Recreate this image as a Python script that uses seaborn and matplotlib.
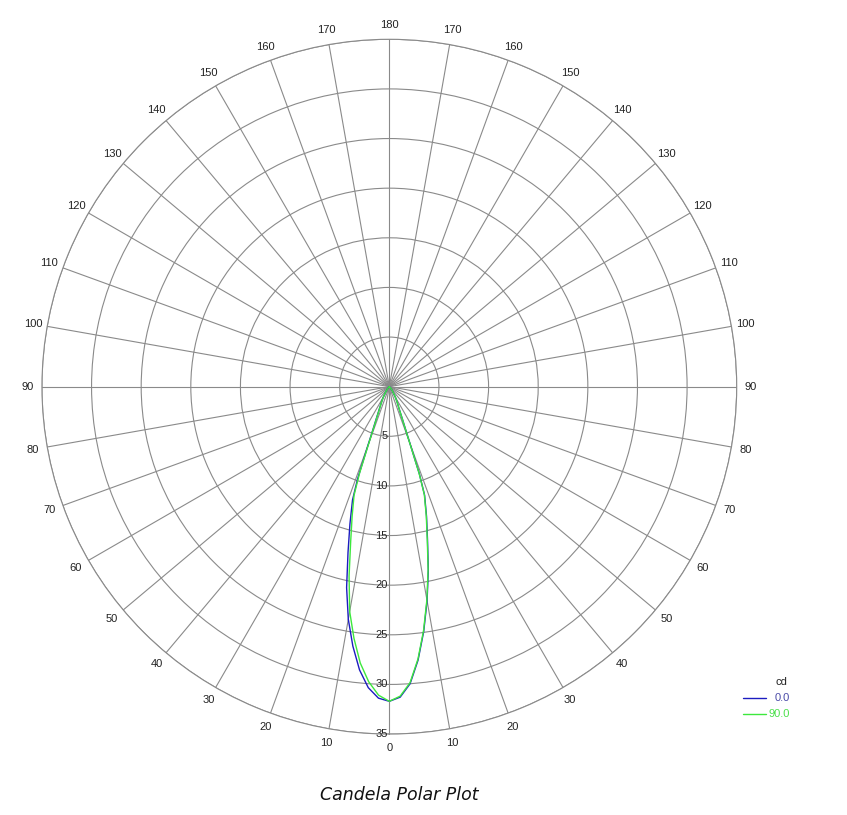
import numpy as np
import pandas as pd
import seaborn as sns
import matplotlib.pyplot as plt
from matplotlib.lines import Line2D

# vertical angles (deg from nadir) and candela values
gamma = [0, 2, 4, 6, 8, 10, 12, 14, 16, 18, 19, 20, 21, 22, 24, 26, 28, 30, 35, 40, 45, 50]
cd_c0 = [31.7, 31.3, 30.0, 27.7, 24.9, 21.9, 18.9, 15.9, 13.6, 11.5, 9.3, 6.0, 4.4, 3.5, 2.4, 1.9, 1.5, 1.2, 0.6, 0.3, 0.1, 0.0]
cd_c180 = [31.7, 31.4, 30.4, 28.7, 26.4, 23.8, 20.7, 17.2, 14.4, 12.0, 9.8, 6.3, 4.5, 3.6, 2.5, 1.9, 1.5, 1.2, 0.6, 0.3, 0.1, 0.0]
cd_c90 = [31.7, 31.2, 29.9, 27.6, 24.8, 21.8, 18.8, 15.8, 13.5, 11.4, 9.2, 5.9, 4.3, 3.4, 2.4, 1.9, 1.5, 1.2, 0.6, 0.3, 0.1, 0.0]
cd_c270 = [31.7, 31.1, 29.8, 28.0, 25.6, 23.0, 19.5, 16.1, 13.6, 11.5, 9.2, 5.9, 4.3, 3.4, 2.4, 1.9, 1.5, 1.2, 0.6, 0.3, 0.1, 0.0]

planes = ['0.0', '90.0']
plane_colors = {'0.0': '#1c1cc0', '90.0': '#3de83d'}
label_colors = {'0.0': '#4a4aa8', '90.0': '#4ce04c'}
r_ticks = [5, 10, 15, 20, 25, 30, 35]
angle_ticks = list(range(0, 360, 10))


def half_plane_curve(left, right):
    # left half drawn at negative angles, right half at positive angles
    g = np.array(gamma, dtype=float)
    theta = np.deg2rad(np.concatenate([-g[::-1], g[1:]]))
    r = np.concatenate([np.array(left)[::-1], np.array(right)[1:]])
    return theta, r


rows = []
for plane, (left, right) in zip(planes, [(cd_c180, cd_c0), (cd_c270, cd_c90)]):
    th, rr = half_plane_curve(left, right)
    for i, (t, v) in enumerate(zip(th, rr)):
        rows.append({'plane': plane, 'order': i, 'theta': t, 'cd': v})
df = pd.DataFrame(rows)

sns.set_style('white')
plt.rcParams['font.family'] = ['Liberation Sans', 'DejaVu Sans']

fig = plt.figure(figsize=(8.47, 8.15), dpi=100)
ax = fig.add_axes([0.0495, 0.0993, 0.8203, 0.8525], projection='polar')
ax.set_theta_zero_location('S')
ax.set_ylim(0, 35)

grid_col = '#8a8a8a'
ax.set_xticks(np.deg2rad(angle_ticks))
ax.set_xticklabels([])
ax.set_yticks(r_ticks)
ax.set_yticklabels([])
ax.grid(True, color=grid_col, lw=0.8)
ax.spines['polar'].set_color(grid_col)
ax.spines['polar'].set_linewidth(0.8)
ax.tick_params(length=0)

sns.lineplot(data=df, x='theta', y='cd', hue='plane', palette=plane_colors,
             sort=False, estimator=None, units='plane', lw=1.0, ax=ax, legend=False)
ax.set_xlabel('')
ax.set_ylabel('')

# angle labels: 0 at nadir, mirrored to 180 at zenith
for a in angle_ticks:
    lab = a if a <= 180 else 360 - a
    ax.text(np.deg2rad(a), 36.45, str(lab), ha='center', va='center',
            fontsize=8, color='#222222', clip_on=False)

# radial labels along the 0 spoke
for r in r_ticks:
    ax.annotate(str(r), xy=(0, r), xytext=(-1, 0), textcoords='offset points',
                ha='right', va='center', fontsize=8, color='#222222')

# legend
fig.text(781 / 847, 1 - 682 / 815, 'cd', ha='center', va='center', fontsize=8, color='#222222')
for plane, y in zip(planes, [698, 714]):
    yf = 1 - y / 815
    fig.add_artist(Line2D([743 / 847, 766 / 847], [yf, yf], transform=fig.transFigure,
                          color=plane_colors[plane], lw=1.0))
    fig.text(790 / 847, yf, plane, ha='right', va='center', fontsize=8, color=label_colors[plane])

fig.text(399 / 847, 1 - 795 / 815, 'Candela Polar Plot', ha='center', va='center',
         fontsize=12.5, style='italic', family=['DejaVu Sans'], color='#111111')

fig.savefig('out.png', dpi=100, facecolor='white')
